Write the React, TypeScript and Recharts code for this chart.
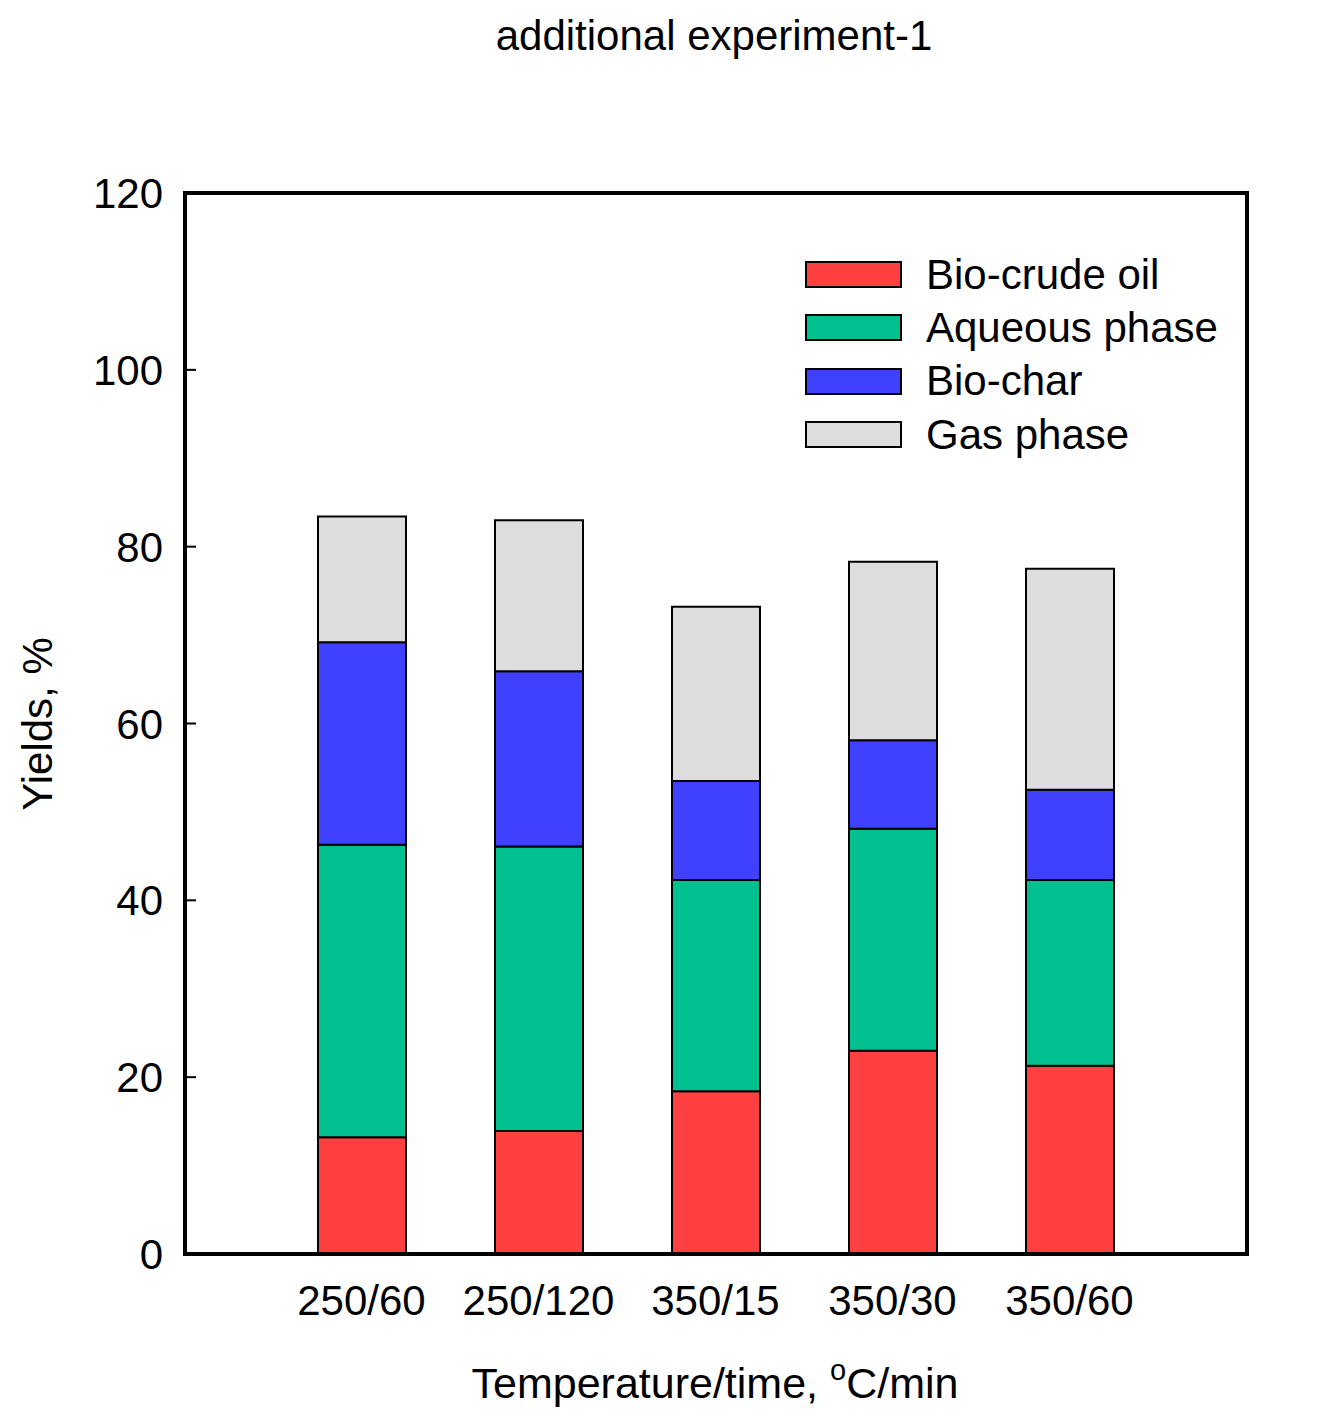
import { BarChart, Bar, XAxis, YAxis, Legend } from 'recharts';

const categories = ['250/60', '250/120', '350/15', '350/30', '350/60'];
const bioCrudeOil = [13.2, 13.9, 18.4, 23.0, 21.3];
const aqueousPhase = [33.1, 32.2, 23.9, 25.1, 21.0];
const bioChar = [22.9, 19.8, 11.2, 10.0, 10.2];
const gasPhase = [14.2, 17.1, 19.7, 20.2, 25.0];
const yTicks = [0, 20, 40, 60, 80, 100, 120];

const series = [
    { key: 'oil', name: 'Bio-crude oil', color: '#FF4040' },
    { key: 'aqueous', name: 'Aqueous phase', color: '#00C090' },
    { key: 'char', name: 'Bio-char', color: '#4040FF' },
    { key: 'gas', name: 'Gas phase', color: '#DDDDDD' },
];

const data = categories.map((name, i) => ({
    name,
    oil: bioCrudeOil[i],
    aqueous: aqueousPhase[i],
    char: bioChar[i],
    gas: gasPhase[i],
}));

const FONT = '"Liberation Sans", Arial, sans-serif';

const YTick = ({ x, y, payload }: any) => (
    <g>
        <line x1={x} x2={x + 11} y1={y} y2={y} stroke="#000" strokeWidth={2} />
        <text x={x - 22} y={y} dy="0.36em" textAnchor="end" fontSize={42} fontFamily={FONT} fill="#000">
            {payload.value}
        </text>
    </g>
);

const XTick = ({ x, y, payload }: any) => (
    <text x={x} y={y + 61} textAnchor="middle" fontSize={42} fontFamily={FONT} fill="#000">
        {payload.value}
    </text>
);

// legend drawn as html rows, box + label
const LegendBox = () => (
    <div style={{ fontFamily: FONT, fontSize: 42, color: '#000' }}>
        {series.map((s) => (
            <div key={s.key} style={{ display: 'flex', alignItems: 'center', height: 53.3 }}>
                <div
                    style={{
                        width: 97,
                        height: 27,
                        boxSizing: 'border-box',
                        border: '2px solid #000',
                        background: s.color,
                        marginRight: 24,
                    }}
                />
                <span style={{ lineHeight: '1', whiteSpace: 'nowrap' }}>{s.name}</span>
            </div>
        ))}
    </div>
);

const App = () => {
    const frame = { stroke: '#000', strokeWidth: 4, strokeLinecap: 'square' as const };
    return (
        <div style={{ position: 'absolute', left: 0, top: 0, width: 1324, height: 1419, background: '#fff' }}>
            <BarChart
                width={1324}
                height={1419}
                data={data}
                margin={{ top: 163, right: 17, bottom: 135, left: 125 }}
            >
                <XAxis
                    dataKey="name"
                    interval={0}
                    padding={{ left: 88, right: 89 }}
                    height={30}
                    axisLine={frame}
                    tickLine={false}
                    tickSize={0}
                    tickMargin={0}
                    tick={<XTick />}
                />
                <XAxis
                    xAxisId="top"
                    orientation="top"
                    dataKey="name"
                    padding={{ left: 88, right: 89 }}
                    height={30}
                    axisLine={frame}
                    tickLine={false}
                    tick={false}
                />
                <YAxis
                    domain={[0, 120]}
                    ticks={yTicks}
                    width={60}
                    axisLine={frame}
                    tickLine={false}
                    tickSize={0}
                    tickMargin={0}
                    tick={<YTick />}
                />
                <YAxis
                    yAxisId="right"
                    orientation="right"
                    domain={[0, 120]}
                    width={60}
                    axisLine={frame}
                    tickLine={false}
                    tick={false}
                />
                <Legend
                    layout="horizontal"
                    verticalAlign="middle"
                    align="center"
                    content={<LegendBox />}
                    wrapperStyle={{ top: 248, left: 805, width: 'auto' }}
                />
                {series.map((s) => (
                    <Bar
                        key={s.key}
                        dataKey={s.key}
                        name={s.name}
                        stackId="yield"
                        fill={s.color}
                        stroke="#000"
                        strokeWidth={2}
                        barSize={88}
                        isAnimationActive={false}
                    />
                ))}
            </BarChart>
            <svg
                width={1324}
                height={1419}
                style={{ position: 'absolute', left: 0, top: 0, pointerEvents: 'none' }}
                fontFamily={FONT}
                fontSize={42}
            >
                <text x={714} y={50} textAnchor="middle">additional experiment-1</text>
                <text x={715} y={1398} textAnchor="middle" fontSize={43}>
                    Temperature/time,{' '}
                    <tspan fontSize={29} dy={-18}>o</tspan>
                    <tspan dy={18}>C/min</tspan>
                </text>
                <text x={52} y={724} textAnchor="middle" transform="rotate(-90 52 724)">
                    Yields, %
                </text>
            </svg>
        </div>
    );
};

export default App;
